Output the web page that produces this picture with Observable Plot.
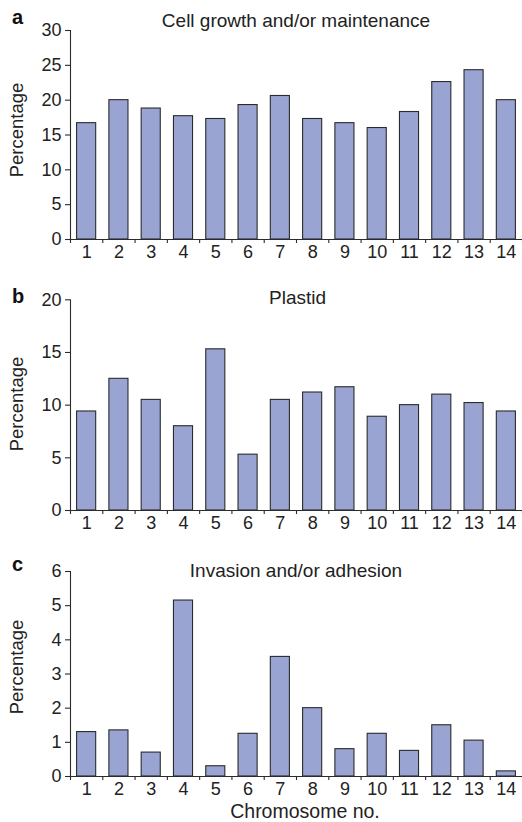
<!DOCTYPE html>
<html>
<head>
<meta charset="utf-8">
<script src="https://cdn.jsdelivr.net/npm/d3@7"></script>
<script src="https://cdn.jsdelivr.net/npm/@observablehq/plot@0.6"></script>
<style>
  html, body { margin: 0; padding: 0; background: #fff; }
  #wrap { position: relative; width: 522px; height: 822px; font-family: "Liberation Sans", Arial, Helvetica, sans-serif; }
  #wrap > svg { position: absolute; left: 0; }
  #wrap > svg.panel text { font-size: 18px !important; font-family: "Liberation Sans", Arial, sans-serif !important; fill: #222; }
  #overlay { position: absolute; left: 0; top: 0; pointer-events: none; }
</style>
</head>
<body>
<div id="wrap"></div>
<script>
// ---- data ----
const chromosomes = [1, 2, 3, 4, 5, 6, 7, 8, 9, 10, 11, 12, 13, 14];
const growth   = [16.7, 20.0, 18.8, 17.7, 17.3, 19.3, 20.6, 17.3, 16.7, 16.0, 18.3, 22.6, 24.3, 20.0];
const plastid  = [9.4, 12.5, 10.5, 8.0, 15.3, 5.3, 10.5, 11.2, 11.7, 8.9, 10.0, 11.0, 10.2, 9.4];
const invasion = [1.3, 1.35, 0.7, 5.15, 0.3, 1.25, 3.5, 2.0, 0.8, 1.25, 0.75, 1.5, 1.05, 0.15];
const growthTicks   = [0, 5, 10, 15, 20, 25, 30];
const plastidTicks  = [0, 5, 10, 15, 20];
const invasionTicks = [0, 1, 2, 3, 4, 5, 6];
const panelLetters = ["a", "b", "c"];
const panelTitles = ["Cell growth and/or maintenance", "Plastid", "Invasion and/or adhesion"];
const yLabel = "Percentage";
const xLabel = "Chromosome no.";

const FILL = "#99a4d3";
const INK = "#2b2b2b";
const boundaries = d3.range(0.5, 15, 1);

function panel(values, ticks, {top, height, marginTop, marginBottom}) {
  const data = chromosomes.map((c, i) => ({chr: c, value: values[i]}));
  const ymax = ticks[ticks.length - 1];
  const svg = Plot.plot({
    width: 522,
    height,
    marginTop,
    marginBottom,
    marginLeft: 70,
    marginRight: 0,
    style: {background: "transparent", overflow: "visible"},
    x: {domain: [0.5, 14.5]},
    y: {domain: [0, ymax]},
    marks: [
      Plot.rectY(data, {
        x1: d => d.chr - 0.5, x2: d => d.chr + 0.5, y1: 0, y2: "value",
        insetLeft: 6.6, insetRight: 6.6,
        fill: FILL, stroke: INK, strokeWidth: 1.1
      }),
      Plot.ruleX([0.5], {y1: 0, y2: ymax, stroke: INK, strokeWidth: 1.1}),
      Plot.ruleY([0], {stroke: INK, strokeWidth: 1.1}),
      Plot.axisY({ticks, tickSize: 5, tickPadding: 4, tickFormat: d => String(d), label: null, stroke: INK, strokeWidth: 1.1}),
      Plot.axisX({ticks: boundaries, tickSize: 4, tickFormat: () => "", label: null, stroke: INK, strokeWidth: 1.1}),
      Plot.axisX({ticks: chromosomes, tickSize: 0, tickPadding: 6, tickFormat: d => String(d), label: null})
    ]
  });
  svg.classList.add("panel");
  svg.style.top = top + "px";
  return svg;
}

const wrap = document.getElementById("wrap");
wrap.appendChild(panel(growth, growthTicks, {top: 0, height: 262, marginTop: 30, marginBottom: 23}));
wrap.appendChild(panel(plastid, plastidTicks, {top: 270, height: 262, marginTop: 29.3, marginBottom: 22}));
wrap.appendChild(panel(invasion, invasionTicks, {top: 541, height: 262, marginTop: 30, marginBottom: 27}));

// ---- overlay text (titles, panel letters, axis labels) ----
const ns = "http://www.w3.org/2000/svg";
const ov = document.createElementNS(ns, "svg");
ov.setAttribute("id", "overlay");
ov.setAttribute("width", 522);
ov.setAttribute("height", 822);
function txt(str, x, y, opts = {}) {
  const t = document.createElementNS(ns, "text");
  t.textContent = str;
  t.setAttribute("x", x);
  t.setAttribute("y", y);
  t.setAttribute("fill", opts.fill || "#222");
  t.setAttribute("font-family", '"Liberation Sans", Arial, sans-serif');
  t.setAttribute("font-size", opts.size || 18);
  if (opts.weight) t.setAttribute("font-weight", opts.weight);
  t.setAttribute("text-anchor", opts.anchor || "start");
  if (opts.transform) t.setAttribute("transform", opts.transform);
  ov.appendChild(t);
}
const letterY = [24, 303, 571];
const titleY = [26.5, 304, 577];
const titleX = [296, 297.5, 296];
const ylabY = [130, 404, 667];
for (let i = 0; i < 3; i++) {
  txt(panelLetters[i], 12, letterY[i], {size: 20, weight: "bold", fill: "#111"});
  txt(panelTitles[i], titleX[i], titleY[i], {size: 19, anchor: "middle"});
  txt(yLabel, 0, 0, {size: 18.5, anchor: "middle", transform: `translate(23,${ylabY[i]}) rotate(-90)`});
}
txt(xLabel, 305, 818, {size: 19.5, anchor: "middle"});
wrap.appendChild(ov);
</script>
</body>
</html>
